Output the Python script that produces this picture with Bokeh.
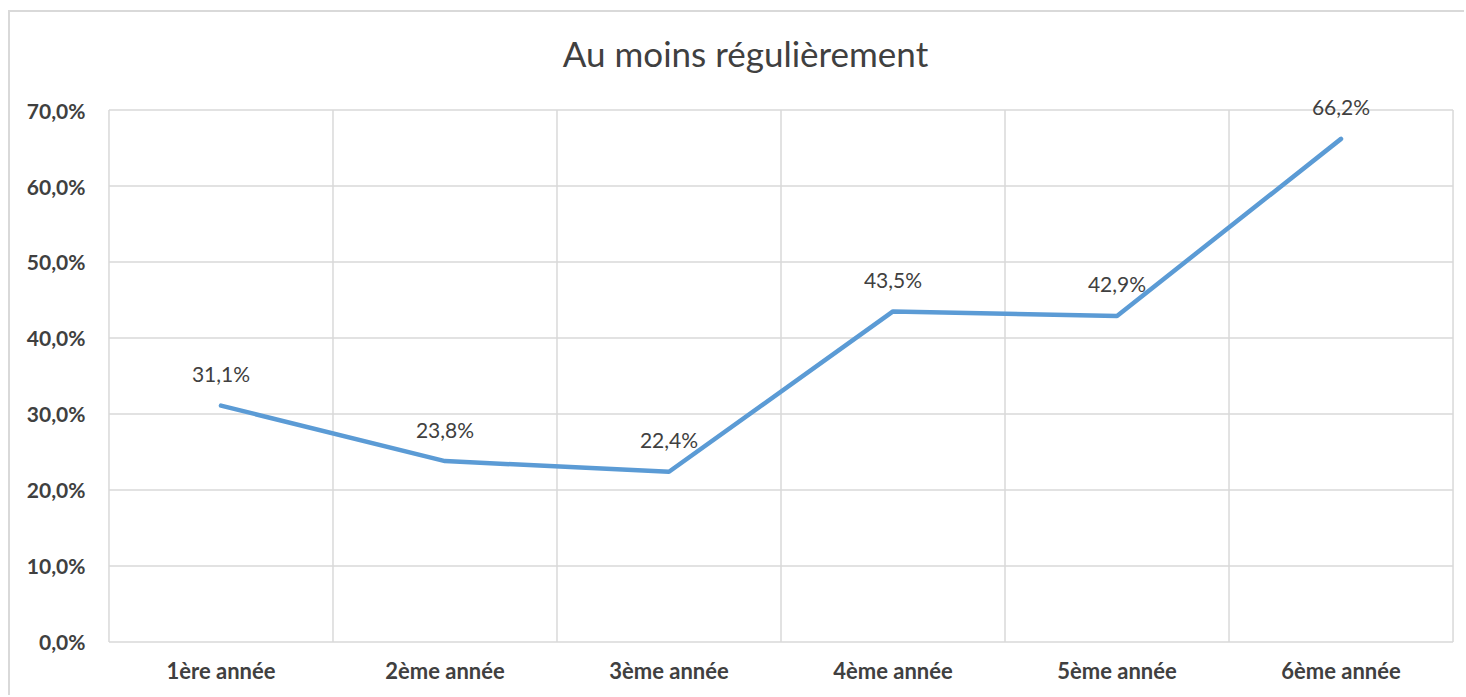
from bokeh.plotting import figure
from bokeh.models import ColumnDataSource, FixedTicker, LabelSet, Label
from bokeh.core.properties import value
from bokeh.embed import file_html
from bokeh.resources import INLINE

categories = ["1ère année", "2ème année", "3ème année", "4ème année", "5ème année", "6ème année"]
values = [31.1, 23.8, 22.4, 43.5, 42.9, 66.2]
y_ticks = [0, 10, 20, 30, 40, 50, 60, 70]
title_text = "Au moins régulièrement"

FONT = "Lato"
GRID = "#d9d9d9"

n = len(categories)
y_max = y_ticks[-1]
x = [i + 0.5 for i in range(n)]
labels = [f"{v:.1f}%".replace(".", ",") for v in values]
src = ColumnDataSource(dict(x=x, y=values, label=labels))

# frame covers the whole top area so the title and top data label are not clipped
p = figure(width=1456, height=685, x_range=(-0.02, n + 0.02), y_range=(-0.2, y_max + 12.83),
           output_backend="svg", toolbar_location=None, title=None,
           min_border_left=94, min_border_top=0, min_border_right=9, min_border_bottom=54,
           styles={"border-top": "2px solid #d9d9d9", "border-left": "2px solid #d9d9d9",
                   "margin-top": "10px", "margin-left": "8px"})

p.outline_line_color = None
p.xgrid.visible = False
p.ygrid.visible = False

# category boundary lines and horizontal gridlines
bx = list(range(n + 1))
p.segment(x0=bx, y0=[0] * len(bx), x1=bx, y1=[y_max] * len(bx),
          line_color=GRID, line_width=1.5)
p.segment(x0=[0] * len(y_ticks), y0=y_ticks, x1=[n] * len(y_ticks), y1=y_ticks,
          line_color=GRID, line_width=1.5)

p.xaxis.ticker = FixedTicker(ticks=x)
p.xaxis.major_label_overrides = {xv: c for xv, c in zip(x, categories)}
p.yaxis.ticker = FixedTicker(ticks=y_ticks)
p.yaxis.major_label_overrides = {t: f"{t:.1f}%".replace(".", ",") for t in y_ticks}

for ax in (p.xaxis, p.yaxis):
    ax.axis_line_color = None
    ax.major_tick_line_color = None
    ax.minor_tick_line_color = None
    ax.major_label_text_font = FONT
    ax.major_label_text_font_style = "bold"
    ax.major_label_text_color = "#404040"
p.xaxis.major_label_text_font_size = "22px"
p.yaxis.major_label_text_font_size = "21px"
p.xaxis.major_label_standoff = 7
p.yaxis.major_label_standoff = 13

p.line("x", "y", source=src, line_color="#5b9bd5", line_width=4.5, line_cap="round", line_join="round")

p.add_layout(LabelSet(x="x", y="y", text="label", source=src, y_offset=32,
                      text_align="center", text_baseline="middle",
                      text_font=value(FONT), text_font_size="21px", text_color="#404040"))

p.add_layout(Label(x=641, y=591, x_units="screen", y_units="screen", text=title_text,
                   text_align="center", text_baseline="middle",
                   text_font=FONT, text_font_size="35px", text_color="#404040"))

open("out.html", "w").write(file_html(p, INLINE))
